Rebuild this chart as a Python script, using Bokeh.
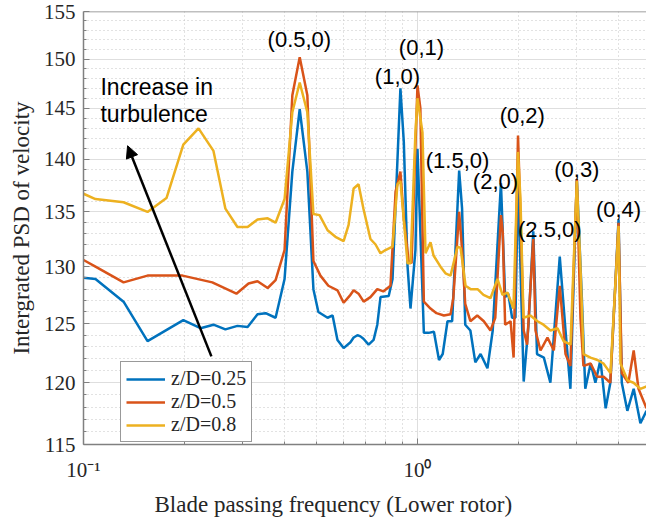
from bokeh.plotting import figure
from bokeh.models import (Range1d, FixedTicker, Legend, LegendItem, Arrow, Span,
                          NormalHead, Title, NumeralTickFormatter, ColumnDataSource)
from bokeh.core.properties import value
from bokeh.embed import file_html
from bokeh.resources import INLINE

# ---------------- data ----------------
series_names = ["z/D=0.25", "z/D=0.5", "z/D=0.8"]
series_colors = ["#0072BD", "#D95319", "#EDB120"]

f_b = [0.1, 0.1086, 0.1318, 0.1555, 0.199, 0.224, 0.245, 0.266, 0.289, 0.310,
       0.332, 0.351, 0.376, 0.400, 0.422, 0.444, 0.468, 0.488, 0.505, 0.538,
       0.557, 0.576, 0.601, 0.630, 0.644, 0.661, 0.675, 0.689, 0.714, 0.739,
       0.758, 0.775, 0.820, 0.842, 0.889, 0.910, 0.934, 0.953, 0.986, 1.0,
       1.045, 1.08, 1.12, 1.16, 1.19, 1.23, 1.27, 1.333, 1.36, 1.39,
       1.44, 1.49, 1.545, 1.62, 1.68, 1.74, 1.778, 1.83, 1.87, 1.92,
       1.965, 2.0, 2.08, 2.15, 2.222, 2.28, 2.39, 2.50, 2.667, 2.775,
       2.87, 3.0, 3.1, 3.18, 3.30, 3.41, 3.53, 3.66, 3.78, 4.0,
       4.09, 4.25, 4.44, 4.65, 4.85]
v_b = [129.0, 128.9, 126.9, 123.5, 125.3, 124.6, 124.9, 124.5, 124.8, 124.7,
       125.8, 125.9, 125.5, 128.9, 138.8, 144.9, 138.8, 128.0, 126.0, 125.5,
       125.7, 123.6, 122.9, 123.4, 123.8, 124.0, 123.9, 123.7, 123.2, 123.6,
       124.9, 127.3, 127.4, 128.9, 147.0, 141.7, 130.0, 126.3, 131.5, 141.0,
       124.2, 124.2, 124.3, 121.9, 122.4, 125.2, 125.2, 138.9, 135.3, 124.9,
       124.4, 121.7, 122.4, 121.2, 124.4, 132.5, 137.7, 127.3, 127.6, 125.5,
       125.5, 138.0, 120.1, 124.9, 133.2, 122.4, 122.1, 120.0, 130.9, 124.4,
       119.5, 138.1, 127.8, 119.5, 121.6, 120.0, 121.9, 117.9, 120.0, 134.3,
       120.0, 117.7, 119.5, 116.7, 117.7]

f_o = [0.1, 0.1086, 0.1318, 0.1555, 0.198, 0.243, 0.287, 0.312, 0.332, 0.356,
       0.376, 0.400, 0.422, 0.444, 0.468, 0.488, 0.512, 0.541, 0.576, 0.601,
       0.630, 0.644, 0.666, 0.69, 0.723, 0.758, 0.79, 0.83, 0.86, 0.889,
       0.91, 0.94, 0.96, 1.0, 1.02, 1.045, 1.094, 1.14, 1.20, 1.256,
       1.28, 1.333, 1.36, 1.39, 1.44, 1.51, 1.58, 1.654, 1.71, 1.778,
       1.80, 1.83, 1.90, 1.94, 2.0, 2.03, 2.08, 2.13, 2.222, 2.256,
       2.335, 2.45, 2.56, 2.667, 2.775, 2.87, 3.0, 3.076, 3.14, 3.30,
       3.45, 3.61, 3.78, 4.0, 4.09, 4.28, 4.44, 4.59, 4.85]
v_o = [130.6, 130.0, 128.6, 129.2, 129.2, 128.6, 127.6, 128.5, 128.7, 128.1,
       128.8, 131.5, 146.3, 150.2, 146.3, 130.5, 129.2, 128.3, 127.9, 126.8,
       127.5, 127.9, 127.6, 126.9, 127.3, 128.0, 127.8, 128.3, 136.9, 138.8,
       134.4, 130.6, 130.3, 147.3, 145.0, 126.9, 126.3, 125.9, 125.7, 125.8,
       127.2, 135.0, 131.5, 126.7, 125.2, 125.7, 125.2, 124.4, 125.5, 134.7,
       133.1, 124.9, 125.2, 122.1, 142.3, 135.6, 124.4, 123.2, 132.5, 124.4,
       122.7, 123.8, 122.7, 128.3, 122.4, 121.4, 138.1, 125.5, 121.4, 121.6,
       120.5, 120.5, 120.0, 134.0, 120.8, 120.0, 122.7, 119.5, 117.9]

f_y = [0.1, 0.1086, 0.1318, 0.1555, 0.1772, 0.199, 0.221, 0.245, 0.266, 0.289,
       0.310, 0.332, 0.356, 0.376, 0.400, 0.422, 0.444, 0.468, 0.488, 0.509,
       0.538, 0.568, 0.601, 0.622, 0.644, 0.666, 0.689, 0.723, 0.749, 0.775,
       0.802, 0.842, 0.871, 0.889, 0.934, 0.953, 0.986, 1.0, 1.035, 1.057,
       1.094, 1.117, 1.172, 1.213, 1.256, 1.318, 1.346, 1.393, 1.442, 1.513,
       1.576, 1.654, 1.736, 1.797, 1.860, 1.938, 2.0, 2.034, 2.077, 2.179,
       2.287, 2.384, 2.502, 2.626, 2.737, 2.872, 3.0, 3.076, 3.141, 3.296,
       3.459, 3.605, 3.783, 4.0, 4.054, 4.255, 4.435, 4.653, 4.85]
v_y = [136.7, 136.2, 135.9, 135.0, 136.3, 141.4, 143.0, 140.8, 135.3, 133.6,
       133.6, 134.3, 134.4, 134.0, 136.2, 144.6, 147.6, 144.6, 134.8, 134.7,
       133.3, 132.7, 132.3, 133.8, 137.2, 137.6, 135.3, 132.5, 132.0, 131.2,
       131.5, 131.8, 137.6, 137.9, 130.3, 130.3, 142.6, 146.0, 142.6, 131.2,
       132.2, 131.0, 130.0, 129.4, 129.2, 131.8, 131.7, 128.3, 128.0, 128.0,
       127.5, 127.2, 128.9, 127.5, 127.7, 126.3, 140.7, 136.2, 125.5, 125.7,
       125.2, 124.9, 124.4, 124.6, 123.5, 123.2, 137.9, 130.0, 122.4, 122.1,
       121.9, 121.6, 120.8, 133.7, 121.6, 120.2, 120.0, 119.5, 119.7]

x_ticks = [0.1, 1.0]
x_tick_labels = ["10\u207b\u00b9", "10\u2070"]
x_minor = [0.2, 0.3, 0.4, 0.5, 0.6, 0.7, 0.8, 0.9, 2.0, 3.0, 4.0]
y_ticks = [115, 120, 125, 130, 135, 140, 145, 150, 155]
y_minor = [v for v in range(115, 156) if v % 5 != 0]

peak_labels = ["(0.5,0)", "(0,1)", "(1,0)", "(1.5,0)", "(2,0)", "(0,2)", "(2.5,0)", "(0,3)", "(0,4)"]
peak_x = [0.443, 1.028, 0.871, 1.318, 1.712, 2.06, 2.49, 3.0, 4.0]
peak_y = [152.0, 151.2, 148.2, 139.9, 137.9, 144.3, 133.4, 139.0, 135.2]

note_lines = ["Increase in", "turbulence"]
note_x = [0.1124, 0.1124]
note_y = [147.1, 144.4]
arrow_from = (0.2415, 122.2)
arrow_to = (0.1355, 141.3)

# ---------------- figure ----------------
SERIF = "Liberation Serif"
SANS = "Liberation Sans"

p = figure(width=646, height=523, x_axis_type="log", y_axis_type="log",
           x_range=Range1d(0.1, 4.85), y_range=Range1d(115, 155),
           output_backend="svg", toolbar_location=None,
           min_border_left=83, min_border_right=0, min_border_top=11, min_border_bottom=79)
p.outline_line_color = None
p.background_fill_color = "white"

xt = FixedTicker(ticks=x_ticks, minor_ticks=x_minor)
yt = FixedTicker(ticks=y_ticks, minor_ticks=y_minor)
p.xaxis.ticker = xt
p.yaxis.ticker = yt
p.xaxis.major_label_overrides = {t: l for t, l in zip(x_ticks, x_tick_labels)}
p.yaxis.formatter = NumeralTickFormatter(format="0")

for ax in (p.xaxis[0], p.yaxis[0]):
    ax.major_tick_out = 0
    ax.major_tick_in = 6
    ax.minor_tick_out = 0
    ax.minor_tick_in = 3
    ax.major_label_text_font = SERIF
    ax.major_label_text_font_size = "21px"
    ax.major_label_text_color = "#262626"
    ax.axis_line_color = "#808080"
    ax.axis_line_width = 1.5
    ax.major_tick_line_color = "#808080"
    ax.minor_tick_line_color = "#808080"

p.xaxis.major_label_standoff = 13
p.yaxis.major_label_standoff = 8
p.yaxis.axis_label = "Intergrated PSD of velocity"
p.yaxis.axis_label_text_font = SERIF
p.yaxis.axis_label_text_font_size = "23px"
p.yaxis.axis_label_text_font_style = "normal"
p.yaxis.axis_label_text_color = "#262626"
p.yaxis.axis_label_standoff = 7

p.add_layout(Title(text="Blade passing frequency (Lower rotor)", text_font=SERIF,
                   text_font_size="23px", text_font_style="normal", text_color="#262626",
                   align="left", offset=71, standoff=10), "below")

for g in (p.xgrid[0], p.ygrid[0]):
    g.grid_line_color = "#dedede"
    g.grid_line_width = 1
    g.minor_grid_line_color = "#c4c4c4"
    g.minor_grid_line_dash = "1 3"
    g.minor_grid_line_width = 1

p.add_layout(Span(location=155, dimension="width", line_color="#808080", line_width=1.5))

renderers = []
for fx, vy, c in zip([f_b, f_o, f_y], [v_b, v_o, v_y], series_colors):
    r = p.line(fx, vy, line_color=c, line_width=2.5)
    renderers.append(r)

legend = Legend(items=[LegendItem(label=n, renderers=[r]) for n, r in zip(series_names, renderers)],
                location=(37, 2), label_text_font=SERIF, label_text_font_size="20px",
                label_text_color="#262626",
                glyph_width=39, glyph_height=20, label_height=20, spacing=0,
                padding=5, margin=0, label_standoff=6,
                border_line_color="#333333", border_line_width=1,
                background_fill_color="white", background_fill_alpha=1)
p.add_layout(legend, "center")

src = ColumnDataSource(dict(x=peak_x, y=peak_y, t=peak_labels))
p.text(x="x", y="y", text="t", source=src, text_font=value(SANS), text_font_size=value("22px"),
       text_align="center", text_baseline="middle", text_color="black")

nsrc = ColumnDataSource(dict(x=note_x, y=note_y, t=note_lines))
p.text(x="x", y="y", text="t", source=nsrc, text_font=value(SANS), text_font_size=value("23px"),
       text_align="left", text_baseline="middle", text_color="black")

p.add_layout(Arrow(end=NormalHead(size=12, fill_color="black", line_color="black"),
                   x_start=arrow_from[0], y_start=arrow_from[1],
                   x_end=arrow_to[0], y_end=arrow_to[1],
                   line_color="black", line_width=2.5))

open("out.html", "w").write(file_html(p, INLINE))
